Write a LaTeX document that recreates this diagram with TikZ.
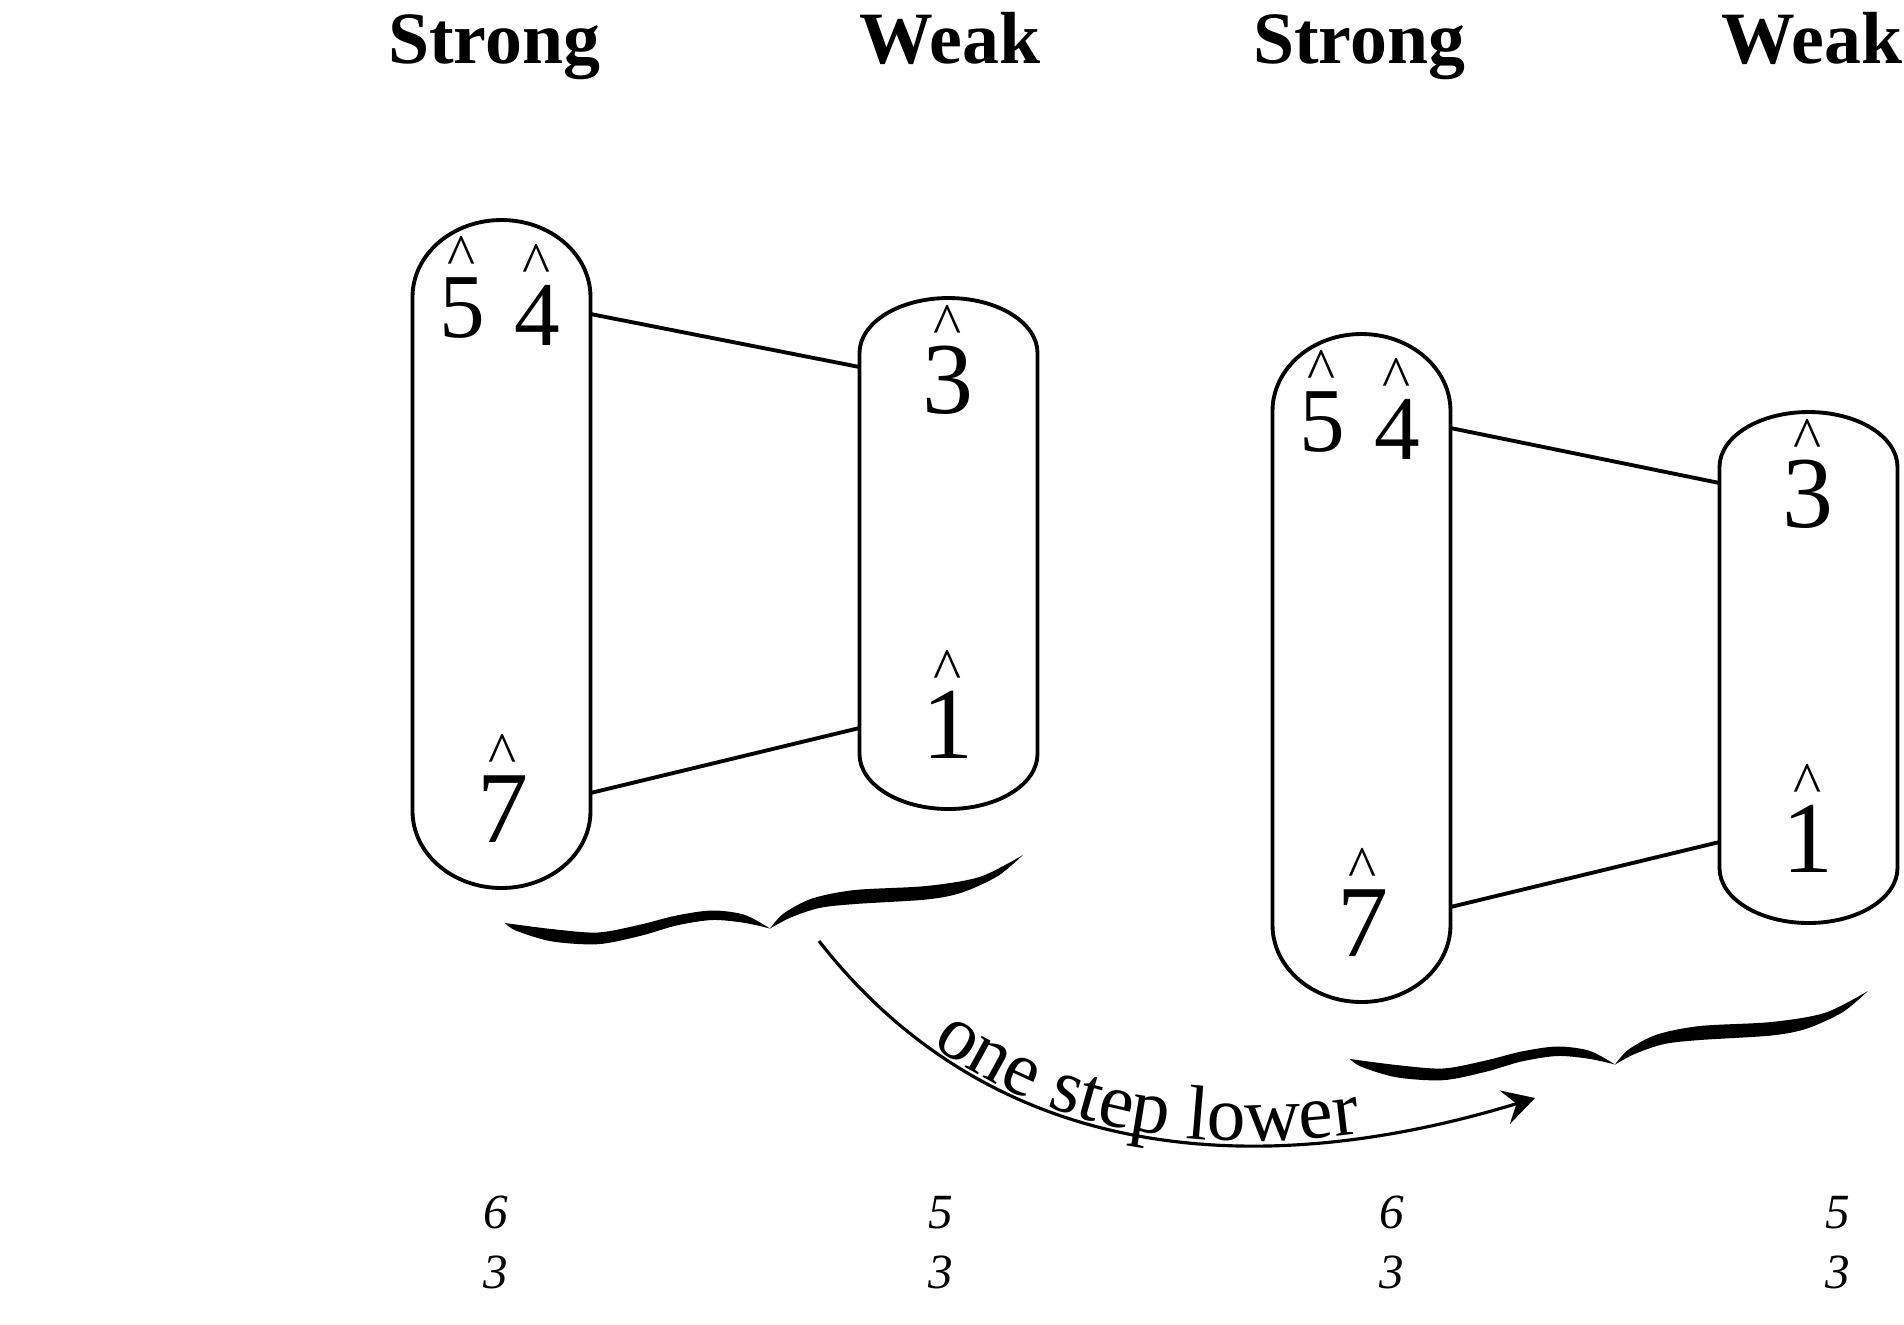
\documentclass[tikz,border=0pt]{standalone}
\usepackage{fontspec}
\setmainfont{Liberation Serif}
\usetikzlibrary{arrows.meta,decorations.text}

\tikzset{
  pill/.style={draw=none, inner sep=0, outer sep=0, minimum width=1.78cm},
  pill line/.style={line width=1.1pt},
  link/.style={line width=1.1pt},
  caret/.style={font=\fontsize{17}{20}\selectfont, inner sep=0},
  deg/.style={font=\fontsize{26}{30}\selectfont, inner sep=0, anchor=base,
    label distance=-1.6pt, label={[caret]above:\textasciicircum}},
  bigdeg/.style={deg, font=\fontsize{29}{34}\selectfont},
  head/.style={font=\fontsize{21}{25}\selectfont\bfseries, anchor=base},
  figbass/.style={font=\fontsize{14}{17}\selectfont\itshape, inner sep=0, anchor=base},
}

% outline of a column: node name, end radius
\newcommand{\pill}[2]{%
  \draw[pill line] ([yshift=-#2]#1.north west) -- ([yshift=#2]#1.south west)
    arc[start angle=180, end angle=360, x radius=0.89cm, y radius=#2]
    -- ([yshift=-#2]#1.north east)
    arc[start angle=0, end angle=180, x radius=0.89cm, y radius=#2] -- cycle;}

% hand-drawn brace, tip at (0,0)
\newcommand{\wavybrace}{%
  \fill plot[smooth] coordinates {(0,0) (0.464,-0.060) (0.929,-0.095) (1.357,-0.015) (1.714,0.075) (2.071,0.125) (2.393,0.083) (2.65,-0.055)}
    -- plot[smooth] coordinates {(2.65,-0.055) (2.393,0.002) (2.071,0.030) (1.714,-0.025) (1.357,-0.128) (0.929,-0.212) (0.464,-0.183) (0.107,-0.075) (0,0)} -- cycle;
  \fill plot[smooth] coordinates {(2.65,-0.055) (2.786,0.095) (3.071,0.245) (3.50,0.330) (4.214,0.370) (4.750,0.462) (5.179,0.680)}
    -- plot[smooth] coordinates {(5.179,0.680) (4.929,0.470) (4.571,0.305) (4.214,0.235) (3.50,0.190) (3.143,0.150) (2.857,0.055) (2.65,-0.055)} -- cycle;}

\begin{document}
\begin{tikzpicture}
  \useasboundingbox (0,0) rectangle (19.04,-13.24);

  % headings
  \node[head] (h1) at (4.94,-0.63) {Strong};
  \node[head] (h2) at (9.50,-0.63) {Weak};
  \node[head] (h3) at (13.59,-0.63) {Strong};
  \node[head] (h4) at (18.12,-0.63) {Weak};

  % first pair
  \node[pill, minimum height=6.68cm] (str1) at (5.015,-5.54) {};
  \node[pill, minimum height=5.11cm] (wk1) at (9.485,-5.535) {};
  \pill{str1}{0.77cm}
  \pill{wk1}{0.55cm}
  \node[deg] (s5a) at (4.62,-3.37) {5};
  \node[deg] (s4a) at (5.37,-3.45) {4};
  \node[bigdeg] (s7a) at (5.03,-8.42) {7};
  \node[bigdeg] (w3a) at (9.48,-4.13) {3};
  \node[bigdeg] (w1a) at (9.48,-7.58) {1};
  \draw[link] ([yshift=-0.94cm]str1.north east) -- ([yshift=-0.69cm]wk1.north west);
  \draw[link] ([yshift=0.95cm]str1.south east) -- ([yshift=0.81cm]wk1.south west);

  % second pair
  \node[pill, minimum height=6.68cm] (str2) at (13.615,-6.68) {};
  \node[pill, minimum height=5.11cm] (wk2) at (18.085,-6.675) {};
  \pill{str2}{0.77cm}
  \pill{wk2}{0.55cm}
  \node[deg] (s5b) at (13.22,-4.51) {5};
  \node[deg] (s4b) at (13.97,-4.59) {4};
  \node[bigdeg] (s7b) at (13.63,-9.56) {7};
  \node[bigdeg] (w3b) at (18.08,-5.27) {3};
  \node[bigdeg] (w1b) at (18.08,-8.72) {1};
  \draw[link] ([yshift=-0.94cm]str2.north east) -- ([yshift=-0.71cm]wk2.north west);
  \draw[link] ([yshift=0.95cm]str2.south east) -- ([yshift=0.81cm]wk2.south west);

  % braces
  \begin{scope}[shift={(5.05,-9.23)}]
    \wavybrace
  \end{scope}
  \begin{scope}[shift={(13.50,-10.59)}]
    \wavybrace
  \end{scope}

  % arrow with its text
  \coordinate (arrS) at (8.19,-9.41);
  \coordinate (arrE) at (15.35,-10.98);
  \draw[line width=0.9pt, -{Stealth[length=9pt,width=10pt,inset=3.5pt]},
    postaction={decorate, decoration={text along path, raise=1pt,
      text align={left indent=1.55cm},
      text={|\fontsize{22}{26}\selectfont|one step lower}}}]
    (arrS) to[out=-52, in=197] (arrE);

  % figures
  \node[figbass] (f1a) at (4.96,-12.28) {6};
  \node[figbass] (f1b) at (4.96,-12.88) {3};
  \node[figbass] (f2a) at (9.41,-12.28) {5};
  \node[figbass] (f2b) at (9.41,-12.88) {3};
  \node[figbass] (f3a) at (13.92,-12.28) {6};
  \node[figbass] (f3b) at (13.92,-12.88) {3};
  \node[figbass] (f4a) at (18.38,-12.28) {5};
  \node[figbass] (f4b) at (18.38,-12.88) {3};
\end{tikzpicture}
\end{document}
